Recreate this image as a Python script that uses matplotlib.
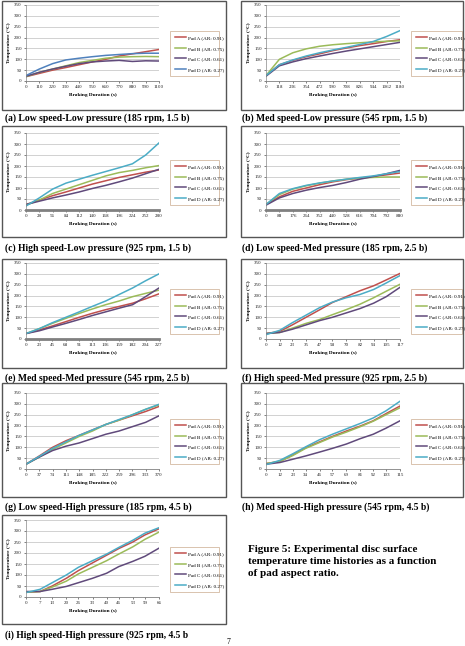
import matplotlib
matplotlib.use("Agg")
import matplotlib.pyplot as plt
from matplotlib.patches import Rectangle

plt.rcParams['font.family'] = ['Liberation Serif', 'DejaVu Serif']

W, H = 465, 646

pad_labels = ["Pad A (AR: 0.91)", "Pad B (AR: 0.75)", "Pad C (AR: 0.61)", "Pad D (AR: 0.27)"]
pad_colors = ["#C0504D", "#9BBB59", "#604A7B", "#4BACC6"]
pad_colors_a = ["#C0504D", "#9BBB59", "#604A7B", "#4F81BD"]
y_ticks = [0, 50, 100, 150, 200, 250, 300, 350]

# (a) Low speed-Low pressure
a_t = [0, 110, 220, 330, 440, 550, 660, 770, 880, 990, 1100]
a_A = [20, 35, 50, 62, 75, 88, 100, 115, 125, 135, 145]
a_B = [20, 40, 55, 70, 85, 95, 105, 110, 112, 113, 112]
a_C = [22, 40, 55, 68, 80, 88, 92, 95, 90, 93, 92]
a_D = [25, 55, 80, 97, 105, 112, 118, 122, 126, 128, 128]

# (b) Med speed-Low pressure
b_t = [0, 118, 236, 354, 472, 590, 708, 826, 944, 1062, 1180]
b_A = [25, 75, 95, 112, 125, 140, 152, 163, 172, 182, 190]
b_B = [25, 100, 130, 148, 160, 167, 172, 176, 180, 183, 185]
b_C = [22, 70, 88, 103, 115, 127, 138, 148, 158, 168, 178]
b_D = [25, 75, 97, 115, 130, 143, 155, 168, 182, 205, 232]

# (c) High speed-Low pressure
c_t = [0, 28, 56, 84, 112, 140, 168, 196, 224, 252, 280]
c_A = [25, 45, 65, 82, 100, 118, 133, 148, 160, 172, 182]
c_B = [22, 45, 75, 95, 115, 135, 155, 170, 180, 192, 202]
c_C = [25, 40, 55, 68, 82, 98, 112, 128, 145, 165, 185]
c_D = [18, 55, 95, 122, 140, 158, 175, 192, 210, 250, 305]

# (d) Low speed-Med pressure
d_t = [0, 88, 176, 264, 352, 440, 528, 616, 704, 792, 880]
d_A = [25, 60, 85, 100, 115, 128, 138, 145, 152, 160, 168]
d_B = [25, 70, 95, 110, 122, 132, 140, 145, 148, 150, 150]
d_C = [22, 55, 75, 90, 102, 112, 125, 140, 152, 165, 180]
d_D = [25, 75, 97, 112, 123, 132, 140, 148, 155, 165, 175]

# (e) Med speed-Med pressure
e_t = [0, 23, 45, 68, 91, 113, 136, 159, 182, 204, 227]
e_A = [25, 42, 60, 80, 100, 118, 135, 150, 165, 185, 208]
e_B = [25, 48, 72, 95, 118, 138, 158, 175, 195, 210, 225]
e_C = [25, 38, 55, 72, 90, 108, 125, 142, 158, 195, 235]
e_D = [25, 48, 75, 100, 125, 150, 175, 205, 235, 268, 300]

# (f) High speed-Med pressure
f_t = [0, 12, 23, 35, 47, 58, 70, 82, 94, 105, 117]
f_A = [25, 35, 65, 100, 135, 168, 195, 222, 245, 272, 302]
f_B = [25, 30, 50, 72, 90, 112, 135, 160, 190, 220, 252]
f_C = [25, 30, 45, 65, 85, 100, 120, 140, 165, 195, 238]
f_D = [20, 40, 75, 110, 145, 170, 190, 205, 228, 258, 292]

# (g) Low speed-High pressure
g_t = [0, 37, 74, 111, 148, 185, 222, 259, 296, 333, 370]
g_A = [22, 60, 100, 130, 155, 180, 205, 225, 245, 265, 288]
g_B = [22, 55, 90, 120, 150, 175, 205, 225, 250, 275, 295]
g_C = [22, 55, 85, 105, 120, 140, 160, 175, 195, 215, 245]
g_D = [22, 58, 95, 125, 155, 180, 205, 228, 250, 275, 298]

# (h) Med speed-High pressure
h_t = [0, 12, 23, 34, 46, 57, 69, 81, 92, 103, 115]
h_A = [25, 35, 65, 98, 125, 150, 175, 198, 222, 255, 290]
h_B = [25, 35, 62, 95, 122, 147, 170, 195, 220, 250, 282]
h_C = [22, 30, 45, 60, 78, 95, 115, 140, 160, 188, 222]
h_D = [20, 40, 70, 102, 135, 160, 185, 210, 235, 268, 312]

# (i) High speed-High pressure
i_t = [0, 7, 13, 20, 26, 33, 40, 46, 53, 59, 66]
i_A = [22, 25, 50, 85, 120, 155, 190, 220, 250, 282, 310]
i_B = [22, 25, 45, 72, 105, 135, 165, 195, 228, 262, 295]
i_C = [25, 25, 35, 48, 65, 85, 108, 138, 162, 185, 222]
i_D = [20, 35, 65, 100, 135, 165, 195, 225, 258, 290, 315]

captions = [
    "(a) Low speed-Low pressure (185 rpm, 1.5 b)",
    "(b) Med speed-Low pressure (545 rpm, 1.5 b)",
    "(c) High speed-Low pressure (925 rpm, 1.5 b)",
    "(d) Low speed-Med pressure (185 rpm, 2.5 b)",
    "(e) Med speed-Med pressure (545 rpm, 2.5 b)",
    "(f) High speed-Med pressure (925 rpm, 2.5 b)",
    "(g) Low speed-High pressure (185 rpm, 4.5 b)",
    "(h) Med speed-High pressure (545 rpm, 4.5 b)",
    "(i) High speed-High pressure (925 rpm, 4.5 b",
]

panels = [
    (a_t, [a_A, a_B, a_C, a_D]),
    (b_t, [b_A, b_B, b_C, b_D]),
    (c_t, [c_A, c_B, c_C, c_D]),
    (d_t, [d_A, d_B, d_C, d_D]),
    (e_t, [e_A, e_B, e_C, e_D]),
    (f_t, [f_A, f_B, f_C, f_D]),
    (g_t, [g_A, g_B, g_C, g_D]),
    (h_t, [h_A, h_B, h_C, h_D]),
    (i_t, [i_A, i_B, i_C, i_D]),
]

# pixel layout: box top/bottom, y px of 0 and of 350, caption y
rows = [
    (1, 110, 81, 5, 118),
    (126, 237, 210, 133, 248),
    (259, 368, 339, 263, 378),
    (383, 497, 469, 393, 507),
    (515, 624, 597, 520, 635),
]
cols = [
    # box x0, box x1, axes x0, axes x1, legend x0, legend x1, caption x
    (2, 226, 26, 159, 170, 219, 5),
    (241, 463, 266, 400, 411, 462, 242),
]
thick_base = [False, False, True, True, True, False, False, False, False]


def fx(x):
    return x / W


def fy(y):
    return 1 - y / H


def draw_panel(fig, k):
    r, c = divmod(k, 2)
    top, bot, y0, y350, cap_y = rows[r]
    bx0, bx1, ax0, ax1, lx0, lx1, cap_x = cols[c]
    t, series = panels[k]
    colors = pad_colors_a if k == 0 else pad_colors

    fig.add_artist(Rectangle((fx(bx0), fy(bot)), (bx1 - bx0) / W, (bot - top) / H,
                             transform=fig.transFigure, fill=False,
                             ec="#555555", lw=1.0))
    ax = fig.add_axes([fx(ax0), fy(y0), (ax1 - ax0) / W, (y0 - y350) / H])
    for vals, lab, col in zip(series, pad_labels, colors):
        ax.plot(t, vals, color=col, lw=1.1, label=lab)
    ax.set_xlim(0, t[-1])
    ax.set_ylim(0, 350)
    ax.set_xticks(t)
    ax.set_xticklabels([str(v) for v in t])
    ax.set_yticks(y_ticks)
    ax.grid(axis="y", color="#BFBFBF", lw=0.5)
    ax.set_axisbelow(True)
    for s in ["top", "right"]:
        ax.spines[s].set_visible(False)
    ax.spines["left"].set_color("#888888")
    ax.spines["left"].set_linewidth(0.5)
    ax.spines["bottom"].set_color("#808080")
    ax.spines["bottom"].set_linewidth(2.0 if thick_base[k] else 0.6)
    ax.tick_params(labelsize=3.6, length=1.5, width=0.4, pad=1.5, colors="#222222")
    ax.set_xlabel("Braking Duration (s)", fontsize=3.8, fontweight="bold", labelpad=2.5)
    ax.set_ylabel("Temperature (\u00b0C)", fontsize=3.8, fontweight="bold", labelpad=2)
    ax.patch.set_alpha(0)

    # legend box: from 50 px to 6 px above the zero line
    leg = ax.legend(loc="upper left",
                    bbox_to_anchor=(fx(lx0), fy(y0 - 6), (lx1 - lx0) / W, 44 / H),
                    bbox_transform=fig.transFigure, mode="expand",
                    fontsize=3.7, handlelength=2.2, labelspacing=1.15,
                    borderpad=0.9, handletextpad=0.4, borderaxespad=0,
                    fancybox=False)
    leg.get_frame().set_edgecolor("#C9A88A")
    leg.get_frame().set_linewidth(0.6)

    fig.text(fx(cap_x), fy(cap_y), captions[k], fontsize=6.9, fontweight="bold",
             va="center", ha="left")


def main():
    fig = plt.figure(figsize=(W / 100, H / 100), dpi=100)
    for k in range(9):
        draw_panel(fig, k)
    fig.text(fx(248), fy(545),
             "Figure 5: Experimental disc surface\ntemperature time histories as a function\nof pad aspect ratio.",
             fontsize=8, fontweight="bold", va="top", ha="left", linespacing=1.45)
    fig.text(fx(228), fy(642), "7", fontsize=5.5, ha="center", va="center")
    fig.savefig("out.png", dpi=100)


if __name__ == "__main__":
    main()
